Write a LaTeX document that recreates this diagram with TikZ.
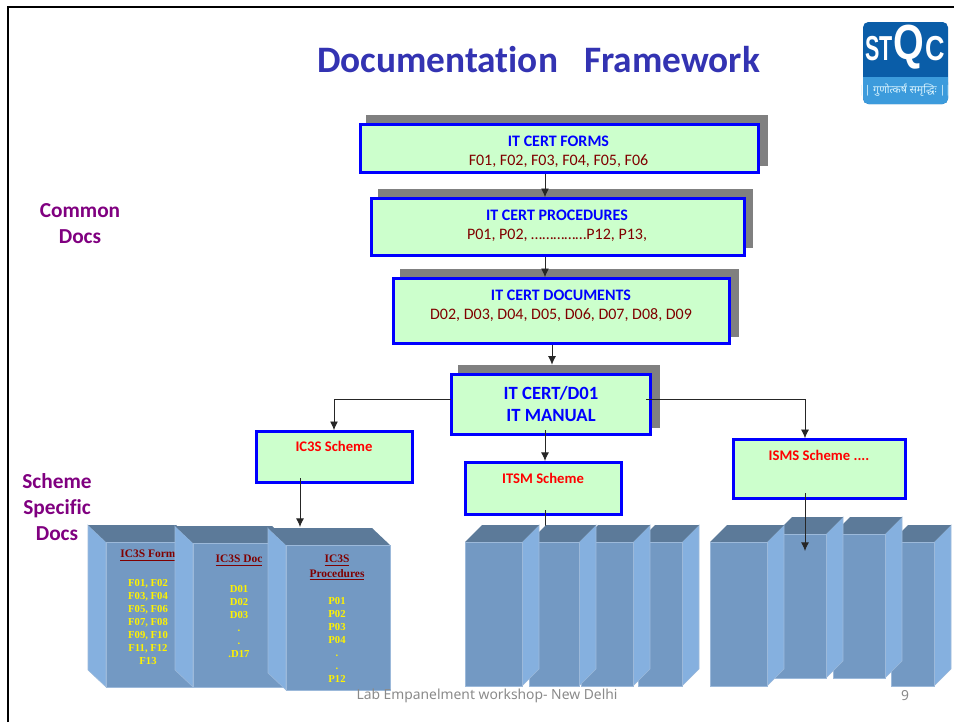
\documentclass[tikz,border=0pt]{standalone}
\usepackage{fontspec}
\setmainfont[Ligatures=NoCommon]{Carlito}
\newfontfamily\serifbold{Liberation Serif}
\newfontfamily\footfont{Noto Sans}
\newfontfamily\logofont{Liberation Sans}
\newfontfamily\devafont[Script=Devanagari]{Noto Sans}
\usetikzlibrary{calc,shapes,arrows.meta,positioning}
\definecolor{boxgreen}{HTML}{CCFFCC}
\definecolor{titleblue}{HTML}{3333B2}
\definecolor{labelpurple}{HTML}{800080}
\definecolor{formred}{HTML}{800000}
\definecolor{frontblue}{HTML}{7399C3}
\definecolor{sideblue}{HTML}{85B0DF}
\definecolor{topblue}{HTML}{5C7A99}
\definecolor{edgeblue}{HTML}{9CB9DA}
\definecolor{logodark}{HTML}{0A5DA8}
\definecolor{logolight}{HTML}{3C9BDC}
\tikzset{%
    cert_box/.style={%
        rectangle, draw=blue, line width=2.25pt, fill=boxgreen, align=center, inner sep=0pt
    },
    cert_shadow/.style={%
        rectangle, fill=black!50, inner sep=0pt
    },
    cert_txt/.style={%
        align=center, inner sep=0pt
    },
    scheme_label/.style={%
        font=\bfseries\fontsize{11}{13}\selectfont, text=red
    },
    side_label/.style={%
        font=\bfseries\fontsize{16}{19.5}\selectfont, text=labelpurple, align=center
    },
    stack_head/.style={%
        font=\serifbold\bfseries\fontsize{8.6}{11}\selectfont, text=formred, align=center
    },
    stack_list/.style={%
        font=\serifbold\bfseries\fontsize{8}{9.7}\selectfont, text=yellow, align=center
    },
    foot_txt/.style={%
        font=\footfont\fontsize{10.4}{12}\selectfont, text=black!46
    },
    logo_txt/.style={%
        font=\logofont\bfseries\fontsize{26}{26}\selectfont, text=white, inner sep=0pt, transform shape
    },
    flow/.style={%
        -{Latex[length=6.5pt,width=6pt]}, black!85!white, line width=0.7pt
    },
}
\newcommand{\certtitle}[1]{{\bfseries\fontsize{12}{14}\selectfont\color{blue} #1}}
\newcommand{\certlist}[1]{{\fontsize{12}{14}\selectfont\color{formred} #1}}
\newcommand{\drawcuboid}[6]{%
  \fill[sideblue, draw=edgeblue, line width=0.4pt] (#6,#3) -- (#6+#5,#3-17) -- (#6+#5,#4-17) -- (#6,#4) -- cycle;
  \fill[topblue] (#1,#3) -- (#1+#5,#3-17) -- (#2+#5,#3-17) -- (#2,#3) -- cycle;
  \fill[frontblue, draw=edgeblue, line width=0.4pt] (#1,#3) rectangle (#2,#4);
}

\begin{document}
\begin{tikzpicture}[x=0.75pt,y=-0.75pt]
  \useasboundingbox (0,0) rectangle (954,722);
  \draw[line width=1.5pt] (8,722) -- (8,7) -- (954,7);

  \node[font=\bfseries\fontsize{28}{32}\selectfont, text=titleblue] (title) at (538.5,59.5) {Documentation\hspace{0.7em}Framework};

  % logo
  \fill[logodark, rounded corners=4pt] (863,22) rectangle (948,104);
  \fill[logolight, rounded corners=4pt] (863,77) rectangle (948,104);
  \fill[logolight] (863,77) rectangle (948,85);
  \node[logo_txt, xscale=0.62] (logo_st) at (879,48.5) {ST};
  \node[logo_txt, xscale=0.8, font=\logofont\bfseries\fontsize{37}{37}\selectfont] (logo_q) at (909,47) {Q};
  \node[logo_txt, xscale=0.78] (logo_c) at (935.5,48.5) {C};
  \node[font=\devafont\fontsize{8}{9}\selectfont, text=white!85!cyan, inner sep=0pt] (logo_motto) at (905,90) {|| गुणोत्कर्षं समृद्धिः ||};

  % upper boxes
  \node[cert_shadow, minimum width=301pt, minimum height=38.25pt] (forms_shadow) at (567,140.5) {};
  \node[cert_box, minimum width=298.5pt, minimum height=36pt] (forms) at (559,148.5) {};
  \node[cert_txt] (forms_txt) at (558.5,151.5) {\certtitle{IT CERT FORMS}\\[2pt]\certlist{F01, F02, F03, F04, F05, F06}};

  \node[cert_shadow, minimum width=281.25pt, minimum height=44.25pt] (procs_shadow) at (565.5,218.5) {};
  \node[cert_box, minimum width=279.5pt, minimum height=42.5pt] (procs) at (558,227) {};
  \node[cert_txt] (procs_txt) at (557,225.5) {\certtitle{IT CERT PROCEDURES}\\[2pt]\certlist{P01, P02, ……………P12, P13,}};

  \node[cert_shadow, minimum width=254.25pt, minimum height=51pt] (docs_shadow) at (569.5,303) {};
  \node[cert_box, minimum width=251.5pt, minimum height=48.5pt] (docs) at (561.5,311) {};
  \node[cert_txt] (docs_txt) at (561,305.5) {\certtitle{IT CERT DOCUMENTS}\\[2pt]\certlist{D02, D03, D04, D05, D06, D07, D08, D09}};

  \node[cert_shadow, minimum width=151.5pt, minimum height=47.25pt] (manual_shadow) at (559,396.5) {};
  \node[cert_box, minimum width=149pt, minimum height=44.5pt] (manual) at (551,404.5) {};
  \node[cert_txt, font=\bfseries\fontsize{14}{16.5}\selectfont, text=blue] (manual_txt) at (551,404.5) {IT CERT/D01\\IT MANUAL};

  % scheme boxes
  \node[cert_box, minimum width=117pt, minimum height=38pt] (ic3s) at (334.5,457) {};
  \node[scheme_label] (ic3s_txt) at (334,446) {IC3S Scheme};
  \node[cert_box, minimum width=117pt, minimum height=39pt] (itsm) at (543.5,488.5) {};
  \node[scheme_label] (itsm_txt) at (543,478) {ITSM Scheme};
  \node[cert_box, minimum width=129pt, minimum height=44pt] (isms) at (819,469) {};
  \node[scheme_label] (isms_txt) at (819,455) {ISMS Scheme ....};

  % connectors
  \coordinate (stem_a) at (545,0);
  \coordinate (stem_b) at (552,0);
  \coordinate (manual_out) at (545,430);
  \coordinate (manual_east) at (646,399);
  \coordinate (manual_west) at (451,399);
  \coordinate (ic3s_out) at (300,478);
  \coordinate (ic3s_in) at (300,527);
  \coordinate (itsm_out) at (545,510);
  \coordinate (itsm_end) at (545,527);
  \coordinate (isms_out) at (805,493);
  \coordinate (isms_in) at (805,551);
  \draw[flow] (stem_a |- forms.south) -- (stem_a |- procs.north);
  \draw[flow] (stem_a |- procs.south) -- (stem_a |- docs.north);
  \draw[flow] (stem_b |- docs.south) -- (stem_b |- manual_shadow.north);
  \draw[flow] (manual_west) -| (ic3s_txt |- ic3s.north);
  \draw[flow] (manual_out) -- (manual_out |- itsm.north);
  \draw[flow, line width=0.5pt] (manual_east) -| (isms_in |- isms.north);
  \draw[flow] (ic3s_out) -- (ic3s_in);
  \draw[black!85!white, line width=0.7pt] (itsm_out) -- (itsm_end);

  % side labels
  \node[side_label] (common) at (80,224) {Common\\Docs};
  \node[side_label] (scheme) at (57,507) {Scheme\\Specific\\Docs};

  % stacks
  \drawcuboid{106}{194}{542}{687}{-18}{106}
  \node[stack_head] (forms_head) at (148,555.5) {\underline{IC3S Form}};
  \node[stack_list, anchor=north] (forms_list) at (148,575) {F01, F02\\F03, F04\\F05, F06\\F07, F08\\F09, F10\\F11, F12\\F13};
  \drawcuboid{193}{290}{543}{687}{-18}{193}
  \node[stack_head] (docs_head) at (239,560.5) {\underline{IC3S Doc}};
  \node[stack_list, anchor=north] (docs_list) at (239,581) {D01\\D02\\D03\\.\\.\\.D17};
  \drawcuboid{286}{390}{545}{690}{-18}{286}
  \node[stack_head, anchor=north] (procs_head) at (337,550.5) {\underline{IC3S}\\\underline{Procedures}};
  \node[stack_list, anchor=north] (procs_list) at (337,593) {P01\\P02\\P03\\P04\\.\\.\\P12};

  \foreach \xa/\xb/\ytop/\ybot in {638/682/542/686, 581/633/542/686, 529/579/542/686, 465/522/542/686, 891/934/542/686, 833/885/534/678, 775/826/534/678, 710/767/542/686}
  {
    \drawcuboid{\xa}{\xb}{\ytop}{\ybot}{17}{\xb}
  }
  \draw[flow] (isms_out) -- (isms_in);

  \node[foot_txt] (foot) at (487,696) {Lab Empanelment workshop- New Delhi};
  \node[foot_txt] (page) at (905,696) {9};
\end{tikzpicture}
\end{document}
